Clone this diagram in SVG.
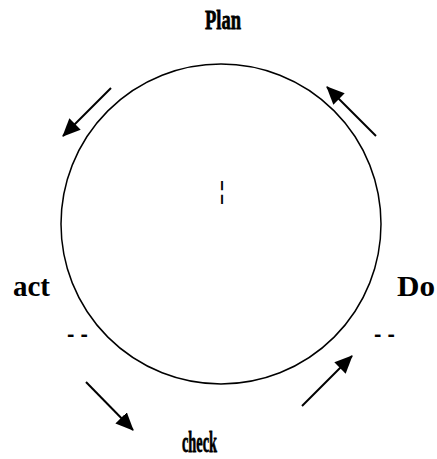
<svg xmlns="http://www.w3.org/2000/svg" width="437" height="459" viewBox="0 0 437 459">
<style>
.lbl{font-family:"Liberation Serif",serif;font-weight:bold;fill:#000}
.cond{stroke:#000;stroke-width:0.8}
.dash{font-family:"Liberation Sans",sans-serif;font-weight:bold;fill:#000}
.arr{stroke:#000;stroke-width:2;fill:none}
</style>
<defs>
<marker id="ah" markerWidth="18" markerHeight="16" refX="17" refY="8" orient="auto" markerUnits="userSpaceOnUse" viewBox="0 0 18 16">
<path d="M0,0 L18,8 L0,16 Z" fill="#000"/>
</marker>
</defs>
<rect width="437" height="459" fill="#fff"/>
<g id="cycle">
<circle cx="221" cy="224" r="160" fill="none" stroke="#000" stroke-width="1.5"/>
<text x="222" y="199" font-size="23" text-anchor="middle" font-family="Liberation Sans, sans-serif" fill="#000">¦</text>
</g>
<g id="plan"><text class="lbl cond" x="205" y="29" font-size="28" textLength="36" lengthAdjust="spacingAndGlyphs">Plan</text></g>
<g id="act"><text class="lbl" x="13" y="296" font-size="29" textLength="37" lengthAdjust="spacingAndGlyphs">act</text>
<text class="dash" x="67" y="341" font-size="20" textLength="21" lengthAdjust="spacingAndGlyphs">- -</text></g>
<g id="do"><text class="lbl" x="397" y="296" font-size="29" textLength="38" lengthAdjust="spacingAndGlyphs">Do</text>
<text class="dash" x="374" y="341" font-size="20" textLength="21" lengthAdjust="spacingAndGlyphs">- -</text></g>
<g id="check"><text class="lbl cond" x="182" y="452" font-size="30" textLength="35" lengthAdjust="spacingAndGlyphs">check</text></g>
<g id="connectors">
<line class="arr" x1="111" y1="88" x2="63" y2="136" marker-end="url(#ah)"/>
<line class="arr" x1="376" y1="136" x2="327" y2="87" marker-end="url(#ah)"/>
<line class="arr" x1="302" y1="406" x2="352" y2="356" marker-end="url(#ah)"/>
<line class="arr" x1="86" y1="382" x2="133" y2="430" marker-end="url(#ah)"/>
</g>
</svg>
